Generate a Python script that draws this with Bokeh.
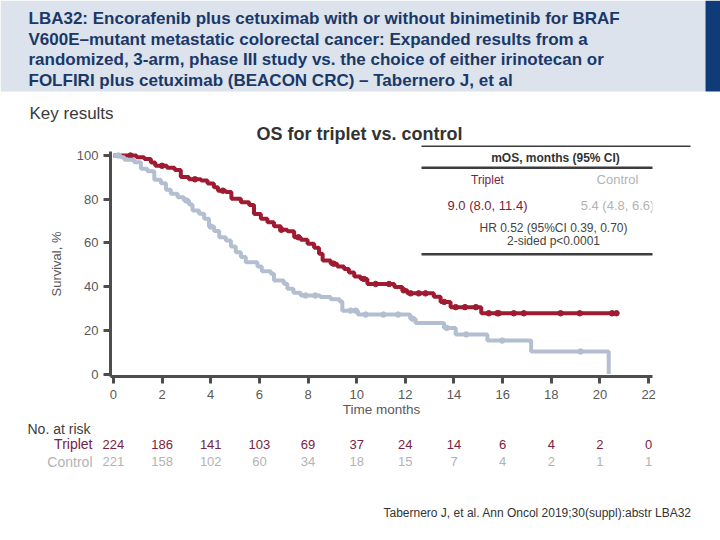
from bokeh.plotting import figure
from bokeh.models import Label, Range1d, FixedTicker, BoxAnnotation
from bokeh.layouts import column
from bokeh.embed import file_html
from bokeh.resources import INLINE

# ---------------- data ----------------
triplet_time = [0, 0.95, 1.27, 1.54, 1.72, 2.2, 2.52, 2.77, 3.1, 3.6, 3.87, 4.13, 4.3, 4.62, 4.85,
                5.24, 5.58, 5.78, 6.06, 6.33, 6.6, 6.88, 7.15, 7.43, 7.7, 7.98, 8.25, 8.45, 8.6,
                8.93, 9.2, 9.48, 9.68, 9.9, 10.16, 10.44, 11.55, 11.88, 12.08, 13.17, 13.45,
                13.86, 15.12, 20.7]
triplet_surv = [100, 99.2, 98.4, 96.8, 95.3, 94.4, 93.4, 90.2, 89.1, 88.6, 87.2, 85.5, 83.9, 83.3,
                80.2, 78.6, 77.3, 73.2, 71.0, 69.5, 67.6, 66.0, 65.3, 62.6, 61.4, 59.6, 57.8, 55.0,
                52.0, 50.5, 49.2, 48.0, 46.4, 44.6, 43.5, 41.2, 39.8, 38.3, 36.9, 35.3, 33.0, 30.6,
                27.8, 27.8]
triplet_censor = [0.7, 2.0, 3.35, 4.5, 6.9, 7.6, 9.05, 10.3, 10.78, 11.33, 11.93, 12.22, 12.55,
                  12.83, 13.6, 14.07, 14.45, 14.9, 15.43, 15.78, 15.84, 16.46, 16.87, 18.38, 19.17,
                  20.5, 20.68]

control_time = [0, 0.3, 0.45, 0.85, 1.13, 1.4, 1.68, 1.95, 2.16, 2.36, 2.64, 2.9, 3.11, 3.25, 3.52,
                3.73, 3.93, 4.14, 4.35, 4.62, 4.83, 5.03, 5.24, 5.44, 5.92, 6.1, 6.47, 6.6, 7.0,
                7.15, 7.4, 7.7, 8.5, 8.93, 9.3, 9.41, 10.05, 12.2, 12.42, 13.59, 14.07, 15.37,
                17.17, 20.36]
control_surv = [100, 99.2, 98.0, 96.9, 93.9, 92.8, 88.9, 87.3, 84.3, 82.5, 80.9, 79.4, 77.6, 74.8,
                73.3, 71.0, 67.5, 65.4, 62.6, 61.1, 58.4, 55.7, 53.5, 51.2, 49.2, 47.0, 45.9, 42.8,
                41.3, 39.0, 37.2, 35.9, 35.2, 34.2, 33.2, 29.0, 27.2, 25.3, 23.3, 21.1, 18.1, 15.3,
                10.3, 0]
control_censor = [0.2, 3.0, 4.0, 7.9, 8.3, 9.75, 9.96, 10.37, 11.1, 11.7, 12.3, 13.7, 14.5,
                  15.98, 19.2]

x_ticks = [0, 2, 4, 6, 8, 10, 12, 14, 16, 18, 20, 22]
y_ticks = [0, 20, 40, 60, 80, 100]
risk_times = [0, 2, 4, 6, 8, 10, 12, 14, 16, 18, 20, 22]
risk_triplet = [224, 186, 141, 103, 69, 37, 24, 14, 6, 4, 2, 0]
risk_control = [221, 158, 102, 60, 34, 18, 15, 7, 4, 2, 1, 1]

title_lines = [
    "LBA32: Encorafenib plus cetuximab with or without binimetinib for BRAF",
    "V600E\u2013mutant metastatic colorectal cancer: Expanded results from a",
    "randomized, 3-arm, phase III study vs. the choice of either irinotecan or",
    "FOLFIRI plus cetuximab (BEACON CRC) \u2013 Tabernero J, et al",
]

# ---------------- style ----------------
FONT = "Liberation Sans"
RED = "#9e1b32"
BLUE = "#b3bfd1"
MAROON = "#7b2140"
LIGHT = "#b3b3b3"
DARK = "#3d3d3d"
AXIS = "#4d4d4d"
TICKTXT = "#595959"

W = 720
T_H = 147            # header strip: page y 0..147
M_TOP, M_BOT = 147, 420   # chart strip
B_H = 540 - M_BOT    # risk table strip
FR_L, FR_R, FR_T, FR_B = 110, 652, 151, 376   # chart frame in page coords
X0, X1 = -0.12, 22.16
PX_PER_UNIT_Y = 2.185
Y_ZERO_PX = 373.5


def blank(height):
    f = figure(width=W, height=height, output_backend="svg", toolbar_location=None,
               x_axis_type=None, y_axis_type=None, min_border=0, frame_align=False,
               min_border_left=0, min_border_right=0, min_border_top=0, min_border_bottom=0)
    f.outline_line_color = None
    f.xgrid.grid_line_color = None
    f.ygrid.grid_line_color = None
    f.background_fill_color = "white"
    f.border_fill_color = "white"
    return f


def add_label(fig, text, x, y, size, color, align="left", style="normal", x_units="screen"):
    fig.add_layout(Label(x=x, y=y, x_units=x_units, y_units="screen", text=text,
                         text_font=FONT, text_font_size=size, text_color=color,
                         text_align=align, text_baseline="middle", text_font_style=style))


def add_box(fig, l, r, t, b, color, level="underlay"):
    fig.add_layout(BoxAnnotation(left=l, right=r, top=t, bottom=b,
                                 left_units="screen", right_units="screen",
                                 top_units="screen", bottom_units="screen",
                                 fill_color=color, fill_alpha=1, line_color=None, level=level))


# ---------------- header strip ----------------
top = blank(T_H)
top.x_range = Range1d(0, W)
top.y_range = Range1d(0, T_H)


def ty(py):
    return T_H - py


add_box(top, 0, 705, ty(0), ty(91), "#dce3ec")
add_box(top, 705, 720, ty(0), ty(91), "#0f3b78")
for i, line in enumerate(title_lines):
    add_label(top, line, 28, ty(18 + i * 20.5), "17px", "#1a3868", style="bold")
add_label(top, "Key results", 29, ty(113), "17px", "#3a3a3a")
add_label(top, "OS for triplet vs. control", 359, ty(133), "18px", "#333333", align="center",
          style="bold")
add_box(top, 421, 690, ty(145), ty(147), DARK)

# ---------------- chart strip ----------------
y_lo = -(FR_B - Y_ZERO_PX) / PX_PER_UNIT_Y
y_hi = (Y_ZERO_PX - FR_T) / PX_PER_UNIT_Y
p = figure(width=W, height=M_BOT - M_TOP, output_backend="svg", toolbar_location=None,
           x_range=Range1d(X0, X1), y_range=Range1d(y_lo, y_hi), frame_align=False,
           min_border_left=FR_L, min_border_right=W - FR_R,
           min_border_top=FR_T - M_TOP, min_border_bottom=M_BOT - FR_B)
p.outline_line_color = None
p.xgrid.grid_line_color = None
p.ygrid.grid_line_color = None
p.background_fill_color = "white"
p.border_fill_color = "white"

for ax in (p.xaxis[0], p.yaxis[0]):
    ax.axis_line_width = 3
    ax.axis_line_color = AXIS
    ax.major_tick_line_width = 3
    ax.major_tick_line_color = AXIS
    ax.major_tick_in = 0
    ax.major_tick_out = 7
    ax.minor_tick_line_color = None
    ax.major_label_text_font = FONT
    ax.major_label_text_font_size = "13px"
    ax.major_label_text_color = TICKTXT
    ax.axis_label_text_font = FONT
    ax.axis_label_text_font_size = "13px"
    ax.axis_label_text_font_style = "normal"
    ax.axis_label_text_color = TICKTXT

p.xaxis.ticker = FixedTicker(ticks=x_ticks)
p.yaxis.ticker = FixedTicker(ticks=y_ticks)
p.xaxis.axis_label = "Time months"
p.yaxis.axis_label = "Survival, %"
p.xaxis.axis_label_text_font_size = "13.5px"
p.xaxis.major_label_standoff = 6
p.xaxis.axis_label_standoff = 0
p.yaxis.major_label_standoff = 5
p.yaxis.axis_label_standoff = 10


def surv_at(times, survs, t):
    s = survs[0]
    for tt, ss in zip(times, survs):
        if tt <= t:
            s = ss
    return s


p.step(triplet_time, triplet_surv, mode="after", line_color=RED, line_width=4)
p.scatter(triplet_censor, [surv_at(triplet_time, triplet_surv, t) for t in triplet_censor],
          size=5.5, color=RED, marker="circle")
p.step(control_time, control_surv, mode="after", line_color=BLUE, line_width=4)
p.scatter(control_censor, [surv_at(control_time, control_surv, t) for t in control_censor],
          size=5.5, color=BLUE, marker="circle")


def mx(px):
    return px - FR_L


def my(py):
    return FR_B - py


add_box(p, mx(421), mx(690), my(166), my(168.5), DARK, level="overlay")
add_box(p, mx(421), mx(690), my(252.5), my(255), DARK, level="overlay")
add_label(p, "mOS, months (95% CI)", mx(555), my(157.5), "12px", "#333333", align="center",
          style="bold")
add_label(p, "Triplet", mx(487), my(179), "12px", MAROON, align="center")
add_label(p, "Control", mx(617), my(179), "13px", LIGHT, align="center")
add_label(p, "9.0 (8.0, 11.4)", mx(487), my(205), "13px", MAROON, align="center")
add_label(p, "5.4 (4.8, 6.6)", mx(617), my(205), "13px", LIGHT, align="center")
add_label(p, "HR 0.52 (95%CI 0.39, 0.70)", mx(553), my(227), "12px", "#444444", align="center")
add_label(p, "2-sided p<0.0001", mx(553), my(240), "12px", "#444444", align="center")

# ---------------- risk table strip ----------------
bot = blank(B_H)
k = (X1 - X0) / (FR_R - FR_L)
bot.x_range = Range1d(X0 - FR_L * k, X1 + (W - FR_R) * k)
bot.y_range = Range1d(0, B_H)


def by(py):
    return 540 - py


add_label(bot, "No. at risk", 27, by(428.5), "14px", "#404040")
add_label(bot, "Triplet", 92, by(443.5), "14px", MAROON, align="right")
add_label(bot, "Control", 92, by(461), "14px", LIGHT, align="right")
for t, n in zip(risk_times, risk_triplet):
    add_label(bot, str(n), t, by(443.5), "13px", MAROON, align="center", x_units="data")
for t, n in zip(risk_times, risk_control):
    add_label(bot, str(n), t, by(461), "13px", LIGHT, align="center", x_units="data")
add_label(bot, "Tabernero J, et al. Ann Oncol 2019;30(suppl):abstr LBA32", 383, by(512), "12px",
          "#333333")

layout = column(top, p, bot, spacing=0)
open("out.html", "w").write(file_html(layout, INLINE))
